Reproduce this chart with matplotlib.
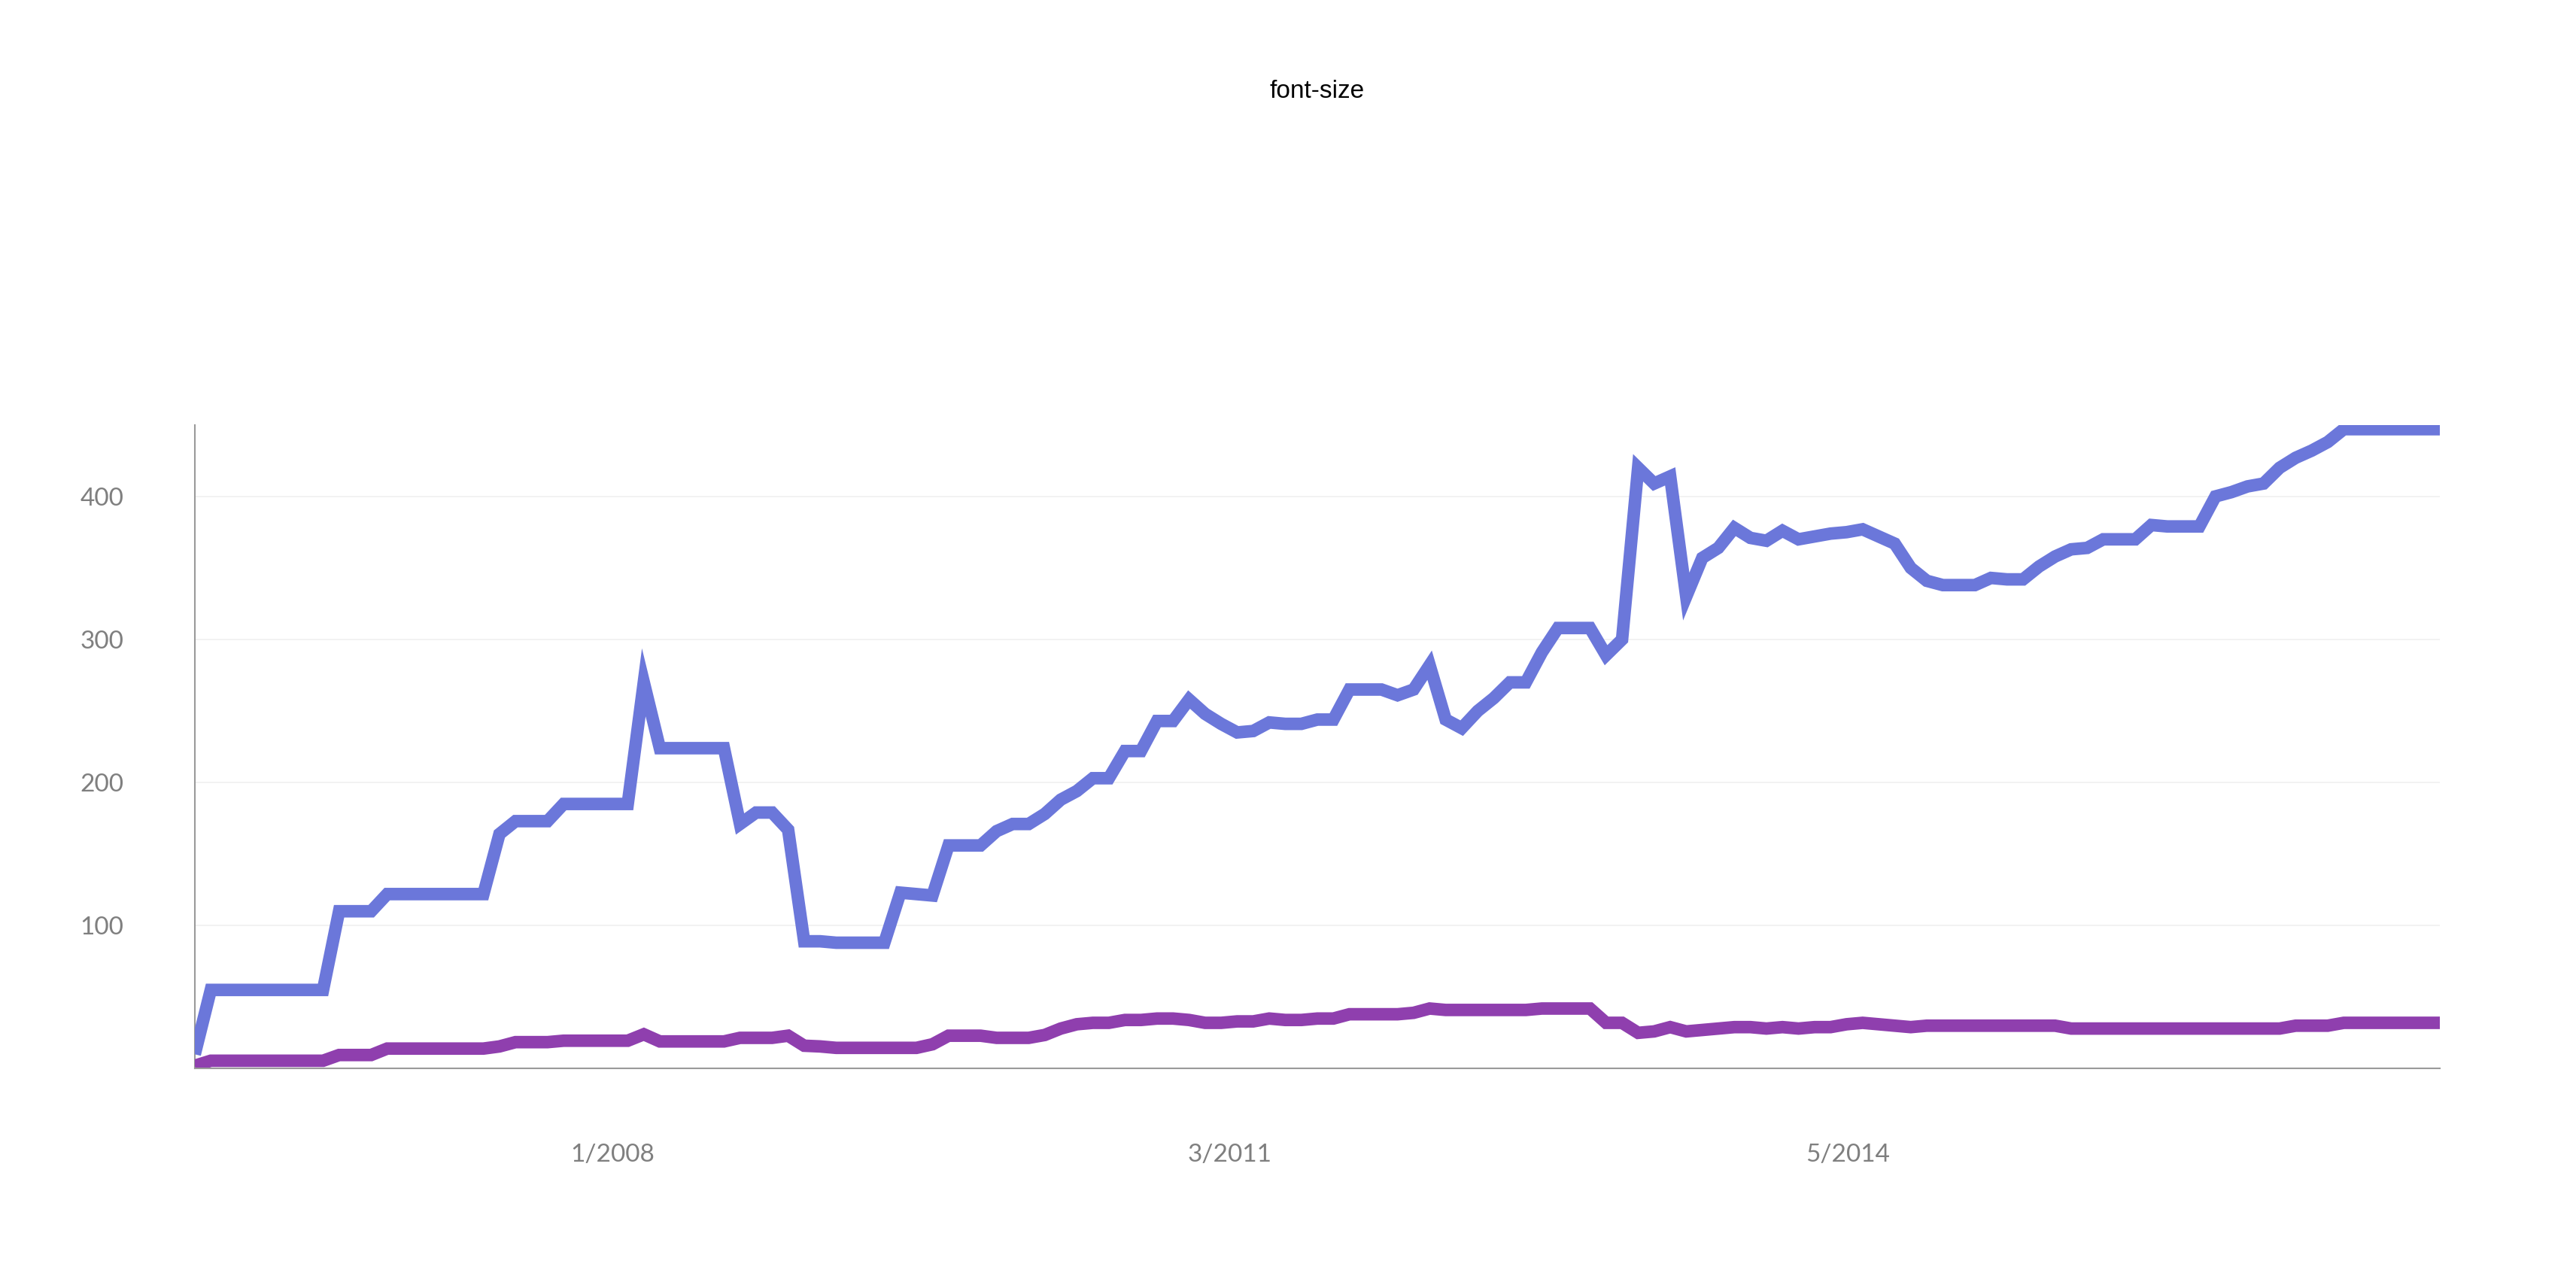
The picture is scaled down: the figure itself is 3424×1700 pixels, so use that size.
import matplotlib
matplotlib.use('Agg')
import matplotlib.pyplot as plt
import pandas as pd

plt.rcParams['font.family'] = ['Lato', 'DejaVu Sans']

# 数据：每 30 天一个采样点
start_date = '2005-11-11'
step = '30D'

blue_values = [
    10, 55, 55, 55, 55, 55, 55, 55, 55, 110,
    110, 110, 122, 122, 122, 122, 122, 122, 122, 164,
    173, 173, 173, 185, 185, 185, 185, 185, 270, 224,
    224, 224, 224, 224, 171, 179, 179, 167, 89, 89,
    88, 88, 88, 88, 123, 122, 121, 156, 156, 156,
    166, 171, 171, 178, 188, 194, 203, 203, 222, 222,
    243, 243, 258, 248, 241, 235, 236, 242, 241, 241,
    244, 244, 265, 265, 265, 261, 265, 282, 244, 238,
    250, 259, 270, 270, 291, 308, 308, 308, 289, 300,
    420, 409, 414, 330, 357, 364, 378, 371, 369, 376,
    370, 372, 374, 375, 377, 372, 367, 350, 341, 338,
    338, 338, 343, 342, 342, 351, 358, 363, 364, 370,
    370, 370, 380, 379, 379, 379, 400, 403, 407, 409,
    420, 427, 432, 438, 447, 447, 447, 447, 447, 447,
    447,
]

purple_values = [
    2, 5.5, 5.5, 5.5, 5.5, 5.5, 5.5, 5.5, 5.5, 9.5,
    9.5, 9.5, 14, 14, 14, 14, 14, 14, 14, 15.5,
    18.5, 18.5, 18.5, 19.5, 19.5, 19.5, 19.5, 19.5, 24, 19,
    19, 19, 19, 19, 21.5, 21.5, 21.5, 23, 16, 15.5,
    14.5, 14.5, 14.5, 14.5, 14.5, 14.5, 17, 23, 23, 23,
    21.5, 21.5, 21.5, 23.5, 28, 31, 32, 32, 34, 34,
    35, 35, 34, 32, 32, 33, 33, 35, 34, 34,
    35, 35, 38, 38, 38, 38, 39, 42, 41, 41,
    41, 41, 41, 41, 42, 42, 42, 42, 32, 32,
    25, 26, 29, 26, 27, 28, 29, 29, 28, 29,
    28, 29, 29, 31, 32, 31, 30, 29, 30, 30,
    30, 30, 30, 30, 30, 30, 30, 28, 28, 28,
    28, 28, 28, 28, 28, 28, 28, 28, 28, 28,
    28, 30, 30, 30, 32, 32, 32, 32, 32, 32,
    32,
]

y_ticks = [100, 200, 300, 400]
x_tick_dates = ['2008-01-01', '2011-03-01', '2014-05-01']
x_tick_labels = ['1/2008', '3/2011', '5/2014']

title_text = 'font-size'


def main():
    """主函数"""
    dates = pd.date_range(start=start_date, periods=len(blue_values), freq=step)

    fig = plt.figure(figsize=(34.24, 17), dpi=100)
    ax = fig.add_axes([0.0756, 0.1645, 0.8716, 0.5033])

    # 网格线
    for v in y_ticks:
        ax.axhline(v, color='#f0f0f0', linewidth=1.2, zorder=0)

    # 两条折线
    ax.plot(dates, blue_values, color='#6b77da', linewidth=12,
            solid_joinstyle='miter', solid_capstyle='butt', zorder=3)
    ax.plot(dates, purple_values, color='#8f3fae', linewidth=12,
            solid_joinstyle='miter', solid_capstyle='butt', zorder=3)

    ax.set_xlim(dates[0], dates[-1])
    ax.set_ylim(0, 450)

    ax.set_yticks(y_ticks)
    ax.set_yticklabels([str(v) for v in y_ticks])
    ax.set_xticks(pd.to_datetime(x_tick_dates))
    ax.set_xticklabels(x_tick_labels)

    ax.tick_params(axis='y', length=0, pad=68, labelsize=24, labelcolor='#7f7f7f')
    ax.tick_params(axis='x', length=0, pad=72, labelsize=24, labelcolor='#7f7f7f')

    # 坐标轴样式
    ax.spines['top'].set_visible(False)
    ax.spines['right'].set_visible(False)
    ax.spines['left'].set_color('#9a9a9a')
    ax.spines['bottom'].set_color('#9a9a9a')
    ax.spines['left'].set_linewidth(1.5)
    ax.spines['bottom'].set_linewidth(1.5)
    ax.spines['bottom'].set_zorder(4)

    # 标题
    fig.text(0.5114, 1 - 130 / 1700, title_text, ha='center', va='baseline',
             fontsize=24, color='black', family=['Liberation Sans', 'DejaVu Sans'])

    fig.savefig('out.png', dpi=100, facecolor='white')


if __name__ == '__main__':
    main()
